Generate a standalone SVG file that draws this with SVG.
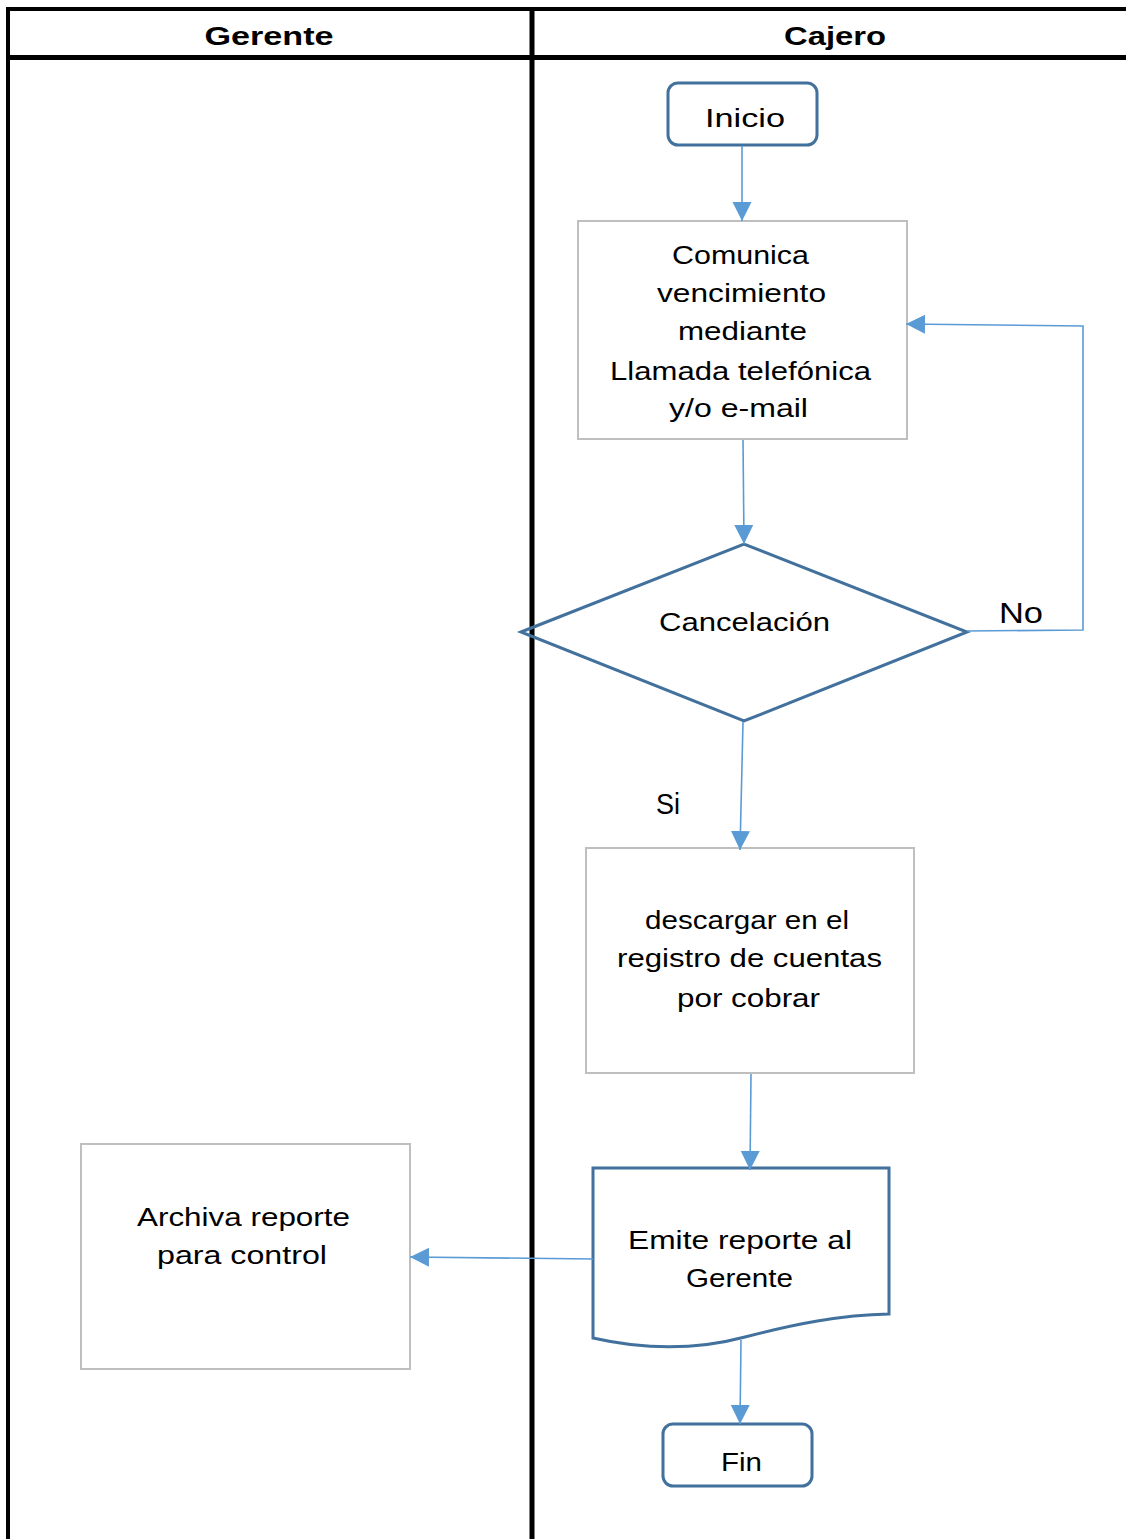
<svg xmlns="http://www.w3.org/2000/svg" width="1126" height="1539" viewBox="0 0 1126 1539">
<style>
.t{font-family:"Liberation Sans",Arial,sans-serif;font-size:26px;fill:#000;text-anchor:middle}
.h{font-family:"Liberation Sans",Arial,sans-serif;font-size:26px;font-weight:bold;fill:#000;text-anchor:middle}
.lane{stroke:#000;fill:none}
.term{fill:#fff;stroke:#41719C;stroke-width:3}
.box{fill:#fff;stroke:#BFBFBF;stroke-width:2}
.c{fill:none;stroke:#5B9BD5;stroke-width:1.6}
</style>
<defs>
<marker id="arr" markerUnits="userSpaceOnUse" markerWidth="20" markerHeight="20" refX="19" refY="9.5" orient="auto">
<path d="M0,0 L19,9.5 L0,19 z" fill="#5B9BD5"/>
</marker>
</defs>
<rect width="1126" height="1539" fill="#fff"/>
<g id="lanes">
<line class="lane" x1="6" y1="9" x2="1126" y2="9" stroke-width="4"/>
<line class="lane" x1="8" y1="7" x2="8" y2="1539" stroke-width="4"/>
<line class="lane" x1="6" y1="57.5" x2="1126" y2="57.5" stroke-width="5"/>
<line class="lane" x1="532" y1="7" x2="532" y2="1539" stroke-width="5"/>
<text class="h" x="269" y="45" textLength="129" lengthAdjust="spacingAndGlyphs">Gerente</text>
<text class="h" x="835" y="45" textLength="102" lengthAdjust="spacingAndGlyphs">Cajero</text>
</g>
<g id="inicio">
<rect class="term" x="668" y="83" width="149" height="62" rx="10"/>
<text class="t" x="745" y="127" textLength="80" lengthAdjust="spacingAndGlyphs">Inicio</text>
</g>
<g id="comunica">
<rect class="box" x="578" y="221" width="329" height="218"/>
<text class="t" x="740.5" y="264" textLength="137" lengthAdjust="spacingAndGlyphs">Comunica</text>
<text class="t" x="741.5" y="302" textLength="169" lengthAdjust="spacingAndGlyphs">vencimiento</text>
<text class="t" x="742.5" y="340" textLength="129" lengthAdjust="spacingAndGlyphs">mediante</text>
<text class="t" x="740.5" y="380" textLength="261" lengthAdjust="spacingAndGlyphs">Llamada telefónica</text>
<text class="t" x="738.5" y="417" textLength="139" lengthAdjust="spacingAndGlyphs">y/o e-mail</text>
</g>
<g id="cancelacion">
<polygon points="521,632 744,544 967,632 744,721" fill="none" stroke="#41719C" stroke-width="3"/>
<text class="t" x="744.5" y="631" textLength="171" lengthAdjust="spacingAndGlyphs">Cancelación</text>
</g>
<g id="descargar">
<rect class="box" x="586" y="848" width="328" height="225"/>
<text class="t" x="747" y="929" textLength="204" lengthAdjust="spacingAndGlyphs">descargar en el</text>
<text class="t" x="749.5" y="967" textLength="265" lengthAdjust="spacingAndGlyphs">registro de cuentas</text>
<text class="t" x="748.5" y="1007" textLength="143" lengthAdjust="spacingAndGlyphs">por cobrar</text>
</g>
<g id="emite">
<path class="term" d="M593,1168 H889 V1314 C840,1315 795,1324 745,1337 C700,1349 650,1351 593,1338 Z"/>
<text class="t" x="740" y="1249" textLength="224" lengthAdjust="spacingAndGlyphs">Emite reporte al</text>
<text class="t" x="739.5" y="1287" textLength="107" lengthAdjust="spacingAndGlyphs">Gerente</text>
</g>
<g id="archiva">
<rect class="box" x="81" y="1144" width="329" height="225"/>
<text class="t" x="243.5" y="1226" textLength="213" lengthAdjust="spacingAndGlyphs">Archiva reporte</text>
<text class="t" x="242" y="1264" textLength="170" lengthAdjust="spacingAndGlyphs">para control</text>
</g>
<g id="fin">
<rect class="term" x="663" y="1424" width="149" height="62" rx="10"/>
<text class="t" x="741.5" y="1471" textLength="41" lengthAdjust="spacingAndGlyphs">Fin</text>
</g>
<g id="connectors">
<line class="c" x1="742" y1="146" x2="742" y2="221" marker-end="url(#arr)"/>
<line class="c" x1="743" y1="440" x2="744" y2="544" marker-end="url(#arr)"/>
<line class="c" x1="743" y1="722" x2="740" y2="850" marker-end="url(#arr)"/>
<line class="c" x1="751" y1="1074" x2="750" y2="1170" marker-end="url(#arr)"/>
<line class="c" x1="593" y1="1259" x2="410" y2="1257" marker-end="url(#arr)"/>
<line class="c" x1="741" y1="1340" x2="740" y2="1424" marker-end="url(#arr)"/>
<polyline class="c" points="967,631 1083,630 1083,326 906,324" marker-end="url(#arr)"/>
<text class="t" x="1021" y="623" textLength="44" lengthAdjust="spacingAndGlyphs" style="font-size:30px">No</text>
<text class="t" x="668" y="814" textLength="24" lengthAdjust="spacingAndGlyphs" style="font-size:30px">Si</text>
</g>
</svg>
